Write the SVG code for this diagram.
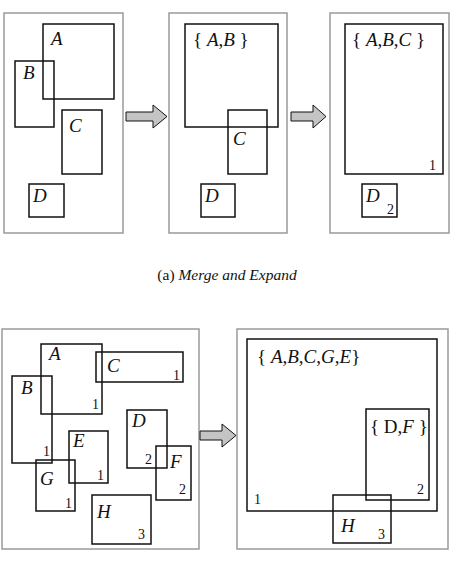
<svg xmlns="http://www.w3.org/2000/svg" width="458" height="566" viewBox="0 0 458 566">
<style>
.panel{fill:#fff;stroke:#9a9a9a;stroke-width:1.5}
.box{fill:none;stroke:#111;stroke-width:1.5}
text{font-family:"Liberation Serif","Times New Roman","DejaVu Serif",serif;fill:#111}
.lbl{font-style:italic;font-size:19px}
.set{font-size:19px}
.num{font-size:14px}
.cap{font-size:15.5px}
.it{font-style:italic}
.arrow{fill:#c4c4c4;stroke:#111;stroke-width:1}
</style>
<rect width="458" height="566" fill="#fff"/>
<g id="panels">
<rect class="panel" x="4" y="13" width="119" height="220"/>
<rect class="panel" x="169" y="13" width="118" height="220"/>
<rect class="panel" x="330" y="13" width="119" height="220"/>
<rect class="panel" x="2" y="329" width="197" height="220"/>
<rect class="panel" x="237" y="329" width="211" height="220"/>
</g>
<g id="connectors">
<path class="arrow" d="M126,112 H153 V105 L167,116.5 L153,128 V121 H126 Z"/>
<path class="arrow" d="M291,112 H313 V105 L326,116.5 L313,128 V121 H291 Z"/>
<path class="arrow" d="M200,431 H222 V424 L236,435.5 L222,447 V440 H200 Z"/>
</g>
<g id="p1-A"><rect class="box" x="43" y="24" width="71" height="75"/><text class="lbl" x="51" y="45">A</text></g>
<g id="p1-B"><rect class="box" x="15" y="61" width="39" height="66"/><text class="lbl" x="23" y="79">B</text></g>
<g id="p1-C"><rect class="box" x="62" y="110" width="40" height="64"/><text class="lbl" x="69" y="132">C</text></g>
<g id="p1-D"><rect class="box" x="29" y="184" width="35" height="33"/><text class="lbl" x="33" y="202">D</text></g>
<g id="p2-AB"><rect class="box" x="185" y="24" width="93" height="103"/><text class="set" x="193" y="46">{ <tspan class="it">A</tspan>,<tspan class="it">B</tspan> }</text></g>
<g id="p2-C"><rect class="box" x="228" y="110" width="39" height="64"/><text class="lbl" x="233" y="145">C</text></g>
<g id="p2-D"><rect class="box" x="201" y="184" width="34" height="33"/><text class="lbl" x="205" y="202">D</text></g>
<g id="p3-ABC"><rect class="box" x="345" y="24" width="98" height="150"/><text class="set" x="352" y="46">{ <tspan class="it">A</tspan>,<tspan class="it">B</tspan>,<tspan class="it">C</tspan> }</text><text class="num" x="429" y="170">1</text></g>
<g id="p3-D"><rect class="box" x="362" y="184" width="35" height="33"/><text class="lbl" x="366" y="202">D</text><text class="num" x="387" y="214">2</text></g>
<g id="caption-a"><text class="cap" x="227" y="280" text-anchor="middle">(a) <tspan class="it">Merge and Expand</tspan></text></g>
<g id="p4-A"><rect class="box" x="41" y="344" width="61" height="70"/><text class="lbl" x="49" y="360">A</text><text class="num" x="92" y="409">1</text></g>
<g id="p4-C"><rect class="box" x="96" y="352" width="87" height="30"/><text class="lbl" x="107" y="372">C</text><text class="num" x="173" y="380">1</text></g>
<g id="p4-B"><rect class="box" x="12" y="376" width="40" height="87"/><text class="lbl" x="21" y="394">B</text><text class="num" x="43" y="456">1</text></g>
<g id="p4-E"><rect class="box" x="69" y="431" width="39" height="52"/><text class="lbl" x="73" y="447">E</text><text class="num" x="97" y="480">1</text></g>
<g id="p4-G"><rect class="box" x="36" y="460" width="39" height="51"/><text class="lbl" x="40" y="485">G</text><text class="num" x="65" y="508">1</text></g>
<g id="p4-D"><rect class="box" x="127" y="410" width="40" height="58"/><text class="lbl" x="132" y="427">D</text><text class="num" x="145" y="464">2</text></g>
<g id="p4-F"><rect class="box" x="156" y="446" width="35" height="54"/><text class="lbl" x="170" y="468">F</text><text class="num" x="179" y="494">2</text></g>
<g id="p4-H"><rect class="box" x="92" y="495" width="59" height="49"/><text class="lbl" x="97" y="518">H</text><text class="num" x="138" y="539">3</text></g>
<g id="p5-ABCGE"><rect class="box" x="247" y="339" width="190" height="172"/><text class="set" x="257" y="363">{ <tspan class="it">A</tspan>,<tspan class="it">B</tspan>,<tspan class="it">C</tspan>,<tspan class="it">G</tspan>,<tspan class="it">E</tspan>}</text><text class="num" x="254" y="504">1</text></g>
<g id="p5-DF"><rect class="box" x="366" y="409" width="63" height="91"/><text class="set" x="370" y="433">{ D,<tspan class="it">F</tspan> }</text><text class="num" x="417" y="494">2</text></g>
<g id="p5-H"><rect class="box" x="333" y="495" width="58" height="48"/><text class="lbl" x="341" y="532">H</text><text class="num" x="378" y="539">3</text></g>
</svg>
